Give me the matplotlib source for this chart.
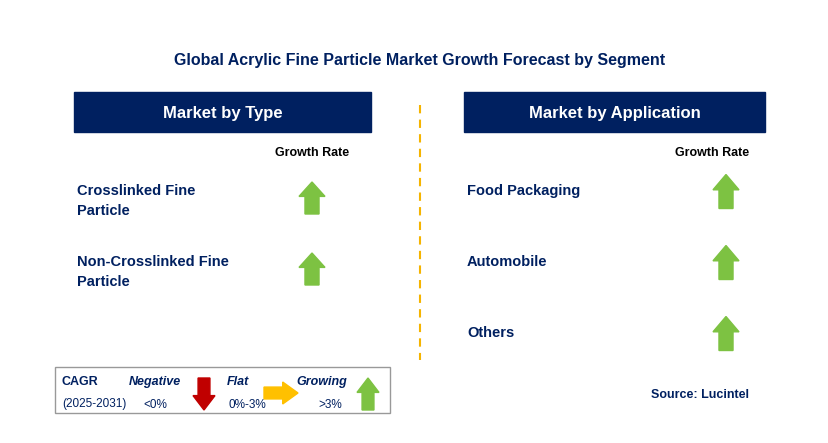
import matplotlib
matplotlib.use("Agg")
import matplotlib.pyplot as plt
from matplotlib.patches import Rectangle, Polygon
plt.rcParams["font.family"] = "Liberation Sans"

title = "Global Acrylic Fine Particle Market Growth Forecast by Segment"
type_header = "Market by Type"
app_header = "Market by Application"
type_cats = ["Crosslinked Fine\nParticle", "Non-Crosslinked Fine\nParticle"]
type_growth = ["up", "up"]
app_cats = ["Food Packaging", "Automobile", "Others"]
app_growth = ["up", "up", "up"]

NAVY = "#002060"
GREEN = "#7dc242"
fig = plt.figure(figsize=(8.29, 4.43), dpi=100)
ax = fig.add_axes([0, 0, 1, 1])
ax.set_xlim(0, 829); ax.set_ylim(443, 0); ax.axis("off")

def arrow(cx, cy, d, color, w=26, h=32):
    hw, hh = w / 2, h / 2
    sw = w * 0.27; head = h * 0.45
    if d == "up":
        pts = [(cx, cy - hh), (cx + hw, cy - hh + head), (cx + sw, cy - hh + head), (cx + sw, cy + hh),
               (cx - sw, cy + hh), (cx - sw, cy - hh + head), (cx - hw, cy - hh + head)]
    elif d == "down":
        pts = [(cx, cy + hh), (cx + hw, cy + hh - head), (cx + sw, cy + hh - head), (cx + sw, cy - hh),
               (cx - sw, cy - hh), (cx - sw, cy + hh - head), (cx - hw, cy + hh - head)]
    else:  # right
        pts = [(cx + hh, cy), (cx + hh - head, cy - hw), (cx + hh - head, cy - sw), (cx - hh, cy - sw),
               (cx - hh, cy + sw), (cx + hh - head, cy + sw), (cx + hh - head, cy + hw)]
    ax.add_patch(Polygon(pts, closed=True, color=color))

ax.text(420, 60, title, ha="center", va="center", fontsize=11.5, fontweight="bold", color=NAVY)
for x0, x1, t in [(74, 371, type_header), (464, 765, app_header)]:
    ax.add_patch(Rectangle((x0, 92), x1 - x0, 40, color=NAVY))
    ax.text((x0 + x1) / 2, 113, t, ha="center", va="center", fontsize=12, fontweight="bold", color="white")
ax.plot([420, 420], [105, 360], ls=(0, (4, 3)), color="#f5b400", lw=1.5)
ax.text(312, 153, "Growth Rate", ha="center", va="center", fontsize=9, fontweight="bold", color="black")
ax.text(712, 153, "Growth Rate", ha="center", va="center", fontsize=9, fontweight="bold", color="black")

for i, (c, g) in enumerate(zip(type_cats, type_growth)):
    y = 201 + i * 71
    ax.text(77, y, c, ha="left", va="center", fontsize=10.5, fontweight="bold", color=NAVY, linespacing=1.5)
    arrow(312, y - 3, g, GREEN)
for i, (c, g) in enumerate(zip(app_cats, app_growth)):
    y = 191 + i * 71
    ax.text(467, y, c, ha="left", va="center", fontsize=10.5, fontweight="bold", color=NAVY)
    arrow(726, y + 0.5, g, GREEN, h=34)

ax.add_patch(Rectangle((55, 367), 335, 46, fill=False, ec="#999999", lw=1))
ax.text(62, 382, "CAGR", ha="left", va="center", fontsize=9, fontweight="bold", color=NAVY)
ax.text(62, 404, "(2025-2031)", ha="left", va="center", fontsize=8.5, color=NAVY)
ax.text(155, 382, "Negative", ha="center", va="center", fontsize=9, fontweight="bold", style="italic", color=NAVY)
ax.text(155, 405, "<0%", ha="center", va="center", fontsize=8.5, color=NAVY)
arrow(204, 394, "down", "#c00000", w=22, h=32)
ax.text(238, 382, "Flat", ha="center", va="center", fontsize=9, fontweight="bold", style="italic", color=NAVY)
ax.text(247, 405, "0%-3%", ha="center", va="center", fontsize=8.5, color=NAVY)
arrow(281, 393, "right", "#ffc000", w=22, h=34)
ax.text(322, 382, "Growing", ha="center", va="center", fontsize=9, fontweight="bold", style="italic", color=NAVY)
ax.text(330, 405, ">3%", ha="center", va="center", fontsize=8.5, color=NAVY)
arrow(368, 394, "up", GREEN, w=22, h=32)
ax.text(700, 395, "Source: Lucintel", ha="center", va="center", fontsize=9, fontweight="bold", color=NAVY)

fig.savefig("out.png", dpi=100)
